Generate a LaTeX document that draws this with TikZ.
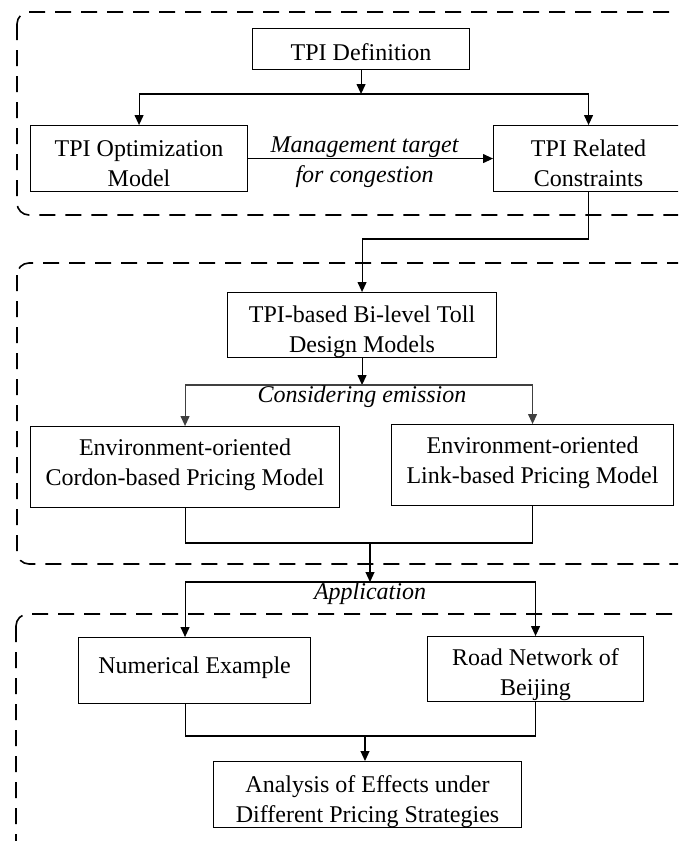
\documentclass[tikz,border=0pt]{standalone}
\usepackage{fontspec}
\setmainfont{Liberation Serif}
\usetikzlibrary{positioning,arrows.meta}
\newcommand{\tp}[1]{\rule{0pt}{#1pt}}
\newcommand{\bt}[1]{\rule[-#1pt]{0pt}{#1pt}}

\begin{document}
\begin{tikzpicture}[x=1pt, y=-1pt,
  box/.style={draw, line width=1.1pt, inner sep=0pt, anchor=north west, minimum width=#1,
              font=\fontsize{24}{30}\selectfont, align=center},
  lbl/.style={inner sep=0pt, font=\fontsize{24}{30}\selectfont\itshape},
  frame/.style={line width=1.6pt, dash pattern=on 16pt off 10pt, rounded corners=12pt},
  conn/.style={line width=1.1pt},
  arr/.style={conn, -{Triangle[length=10pt,width=9pt]}},
  garr/.style={arr, black!75}]
\useasboundingbox (0,0) rectangle (678,841);
\clip (0,0) rectangle (678,841);
% dashed groups
\draw[frame] (17,12) rectangle (700,215);
\draw[frame] (17,263) rectangle (700,564);
\draw[frame] (16,614) rectangle (700,870);
% boxes
\node[box=217pt] (def)  at (252,28)  {\tp{32}TPI Definition\bt{9}};
\node[box=217pt] (opt)  at (30,125)  {\tp{31}TPI Optimization\\Model\bt{5}};
\node[box=190pt] (rel)  at (493,125) {\tp{31}TPI Related\\Constraints\bt{5}};
\node[box=269pt] (bil)  at (227,292) {\tp{30}TPI-based Bi-level Toll\\Design Models\bt{5}};
\node[box=309pt] (cor)  at (30,426)  {\tp{29}Environment-oriented\\Cordon-based Pricing Model\bt{22}};
\node[box=282pt] (lnk)  at (391,424) {\tp{29}Environment-oriented\\Link-based Pricing Model\bt{22}};
\node[box=232pt] (num)  at (78,637)  {\tp{36}Numerical Example\bt{30}};
\node[box=216pt] (road) at (427,636) {\tp{29}Road Network of\\Beijing\bt{6}};
\node[box=308pt] (ana)  at (213,761) {\tp{31}Analysis of Effects under\\Different Pricing Strategies\bt{5}};
% junctions
\coordinate (j1) at (def.south |- 0,94);
\coordinate (j2) at (bil.north |- 0,239);
\coordinate (j3) at (bil.south |- 0,385);
\coordinate (j4) at (370,543);
\coordinate (j5) at (370,582);
\coordinate (j6) at (365,736);
% connectors
\draw[arr] (def) -- (j1);
\draw[arr] (j1) -| (opt); \draw[arr] (j1) -| (rel);
\draw[arr] (opt) -- node[lbl, above=0pt, xshift=-6pt] {Management target}
                    node[lbl, below=6pt, xshift=-6pt] {for congestion} (rel);
\draw[arr] (rel) |- (j2) -- (bil);
\draw[arr] (bil) -- (j3);
\draw[garr] (j3) -| (cor); \draw[garr] (j3) -| (lnk);
\node[lbl, below=1pt of j3] (emis) {Considering emission};
\draw[conn] (cor) |- (j4) -| (lnk);
\draw[arr] (j4) -- (j5);
\draw[arr] (j5) -| (num.north -| cor.south); \draw[arr] (j5) -| (road);
\node[lbl, below=1pt of j5] (app) {Application};
\draw[conn] (num.south -| cor.south) |- (j6) -| (road);
\draw[arr] (j6) -- (j6 |- ana.north);
\end{tikzpicture}
\end{document}
